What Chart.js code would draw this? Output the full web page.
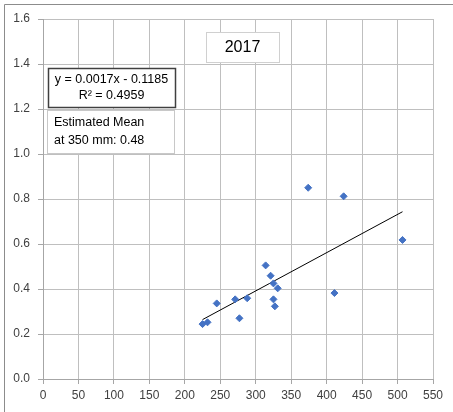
<!DOCTYPE html>
<html>
<head>
<meta charset="utf-8">
<script src="https://cdn.jsdelivr.net/npm/chart.js@4/dist/chart.umd.min.js"></script>
<style>
  html, body { margin: 0; padding: 0; background: #fff; }
  #wrap { width: 453px; height: 412px; position: relative; }
</style>
</head>
<body>
<div id="wrap"><canvas id="myChart"></canvas></div>
<script>
// rainfall (mm) vs. value, 2017
const rainfall = [225, 232, 245, 271, 277, 288, 314, 321, 325, 331, 325, 327, 374, 424, 411, 507];
const values = [0.244, 0.252, 0.336, 0.354, 0.27, 0.359, 0.505, 0.459, 0.425, 0.403, 0.354, 0.323, 0.85, 0.812, 0.382, 0.618];

// fitted line as reported on the chart
const slope = 0.0017;
const intercept = -0.1185;
const rSquared = 0.4959;
const trendX = [225, 507];
const estimateAt = 350;
const estimateValue = 0.48;
const yearLabel = '2017';

const FONT = "'Liberation Sans', Arial, sans-serif";

const points = rainfall.map((x, i) => ({ x: x, y: values[i] }));
const trend = trendX.map(x => ({ x: x, y: slope * x + intercept }));

// text boxes + outer chart border
const boxes = {
  id: 'boxes',
  afterDraw(chart) {
    const c = chart.ctx;
    c.save();
    c.strokeStyle = '#8c8c8c';
    c.lineWidth = 1;
    c.beginPath();
    c.moveTo(4.5, 412);
    c.lineTo(4.5, 4.5);
    c.lineTo(453, 4.5);
    c.stroke();

    function box(x, y, w, h, border, lw) {
      c.fillStyle = '#fff';
      c.fillRect(x, y, w, h);
      c.strokeStyle = border;
      c.lineWidth = lw;
      c.strokeRect(x + 0.5, y + 0.5, w, h);
    }
    c.fillStyle = '#000';
    c.textBaseline = 'middle';

    // year title
    box(206, 32, 73, 30, '#d0d0d0', 1);
    c.fillStyle = '#000';
    c.font = '16px ' + FONT;
    c.textAlign = 'center';
    c.fillText(yearLabel, 242.5, 47.5);

    // regression equation
    box(48, 68, 127, 39, '#404040', 1.5);
    c.fillStyle = '#000';
    c.font = '12.5px ' + FONT;
    c.fillText('y = ' + slope.toFixed(4) + 'x - ' + Math.abs(intercept).toFixed(4), 111.5, 80);
    c.fillText('R\u00b2 = ' + rSquared.toFixed(4), 111.5, 96);

    // estimated mean
    box(47, 110, 127, 43, '#c8c8c8', 1);
    c.fillStyle = '#000';
    c.textAlign = 'left';
    c.fillText('Estimated Mean', 54, 123);
    c.fillText('at ' + estimateAt + ' mm: ' + estimateValue.toFixed(2), 54, 141);
    c.restore();
  }
};

new Chart(document.getElementById('myChart'), {
  type: 'scatter',
  data: {
    datasets: [
      {
        label: 'Observed',
        data: points,
        pointStyle: 'rectRot',
        pointRadius: 3.5,
        backgroundColor: '#4472c4',
        borderColor: '#4472c4',
        borderWidth: 1
      },
      {
        label: 'Linear trend',
        type: 'line',
        data: trend,
        borderColor: '#000',
        borderWidth: 1,
        pointRadius: 0,
        fill: false
      }
    ]
  },
  options: {
    responsive: true,
    maintainAspectRatio: false,
    animation: false,
    layout: { padding: { left: 0, right: 20, top: 19, bottom: 0 } },
    plugins: {
      legend: { display: false },
      tooltip: { enabled: false }
    },
    scales: {
      x: {
        type: 'linear',
        min: 0,
        max: 550,
        ticks: { stepSize: 50, color: '#404040', font: { family: FONT, size: 12 }, padding: 4 },
        grid: { color: '#bfbfbf', tickLength: 5, tickColor: '#a6a6a6' },
        border: { color: '#a6a6a6' },
        afterFit(scale) { scale.height = 33; }
      },
      y: {
        min: 0,
        max: 1.6,
        ticks: {
          stepSize: 0.2,
          color: '#404040',
          font: { family: FONT, size: 12 },
          padding: 8,
          callback: v => v.toFixed(1)
        },
        grid: { color: '#bfbfbf', tickLength: 5, tickColor: '#a6a6a6' },
        border: { color: '#a6a6a6' },
        afterFit(scale) { scale.width = 43; }
      }
    }
  },
  plugins: [boxes]
});
</script>
</body>
</html>
